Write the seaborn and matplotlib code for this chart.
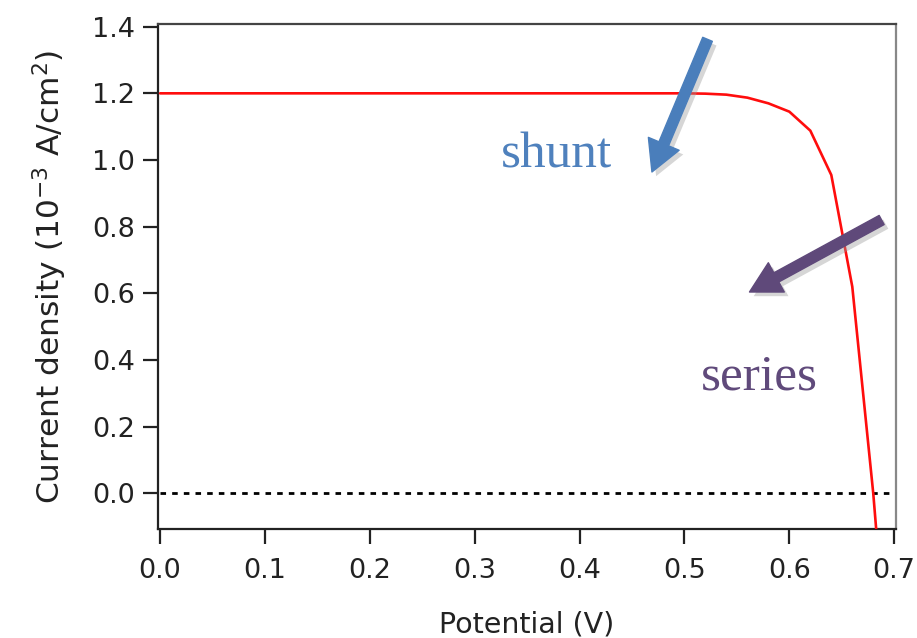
import numpy as np
import pandas as pd
import matplotlib
matplotlib.use("Agg")
import matplotlib.pyplot as plt
import matplotlib.patheffects as pe
import seaborn as sns

# ---- data ----
potential = [0.00, 0.02, 0.04, 0.06, 0.08, 0.10, 0.12, 0.14, 0.16, 0.18,
             0.20, 0.22, 0.24, 0.26, 0.28, 0.30, 0.32, 0.34, 0.36, 0.38,
             0.40, 0.42, 0.44, 0.46, 0.48, 0.50, 0.52, 0.54, 0.56, 0.58,
             0.60, 0.62, 0.64, 0.66, 0.68, 0.683]
current = [1.200, 1.200, 1.200, 1.200, 1.200, 1.200, 1.200, 1.200, 1.200, 1.200,
           1.200, 1.200, 1.200, 1.200, 1.200, 1.200, 1.200, 1.200, 1.200, 1.200,
           1.200, 1.200, 1.200, 1.200, 1.200, 1.200, 1.199, 1.196, 1.187, 1.170,
           1.145, 1.088, 0.955, 0.620, 0.000, -0.115]
zero_x = [0.0, 0.696]
zero_y = [0.0, 0.0]
xticks = [0.0, 0.1, 0.2, 0.3, 0.4, 0.5, 0.6, 0.7]
yticks = [0.0, 0.2, 0.4, 0.6, 0.8, 1.0, 1.2, 1.4]

df = pd.DataFrame({"Potential": potential, "Current": current})

sns.set_theme(style="ticks")
plt.rcParams["font.family"] = ["DejaVu Sans"]
plt.rcParams["mathtext.default"] = "regular"

fig = plt.figure(figsize=(9.17, 6.38), dpi=100)
ax = fig.add_axes([0.1718, 0.1708, 0.977 - 0.1718, 0.9624 - 0.1708])

ax.plot(zero_x, zero_y, color="black", lw=2.0, ls=(0, (2.0, 2.2)), zorder=2)
sns.lineplot(data=df, x="Potential", y="Current", sort=False, color="#ff0d0d",
             lw=1.9, ax=ax, zorder=3)

ax.set_xlim(-0.0024, 0.7016)
ax.set_ylim(-0.107, 1.408)
ax.set_xticks(xticks)
ax.set_yticks(yticks)
ax.set_xticklabels([f"{t:.1f}" for t in xticks])
ax.set_yticklabels([f"{t:.1f}" for t in yticks])
ax.tick_params(axis="both", labelsize=19.5, colors="#222222", width=1.6)
ax.tick_params(axis="x", length=11, pad=10)
ax.tick_params(axis="y", length=11, pad=5)

for side in ["left", "bottom"]:
    ax.spines[side].set_color("#222222")
    ax.spines[side].set_linewidth(1.6)
ax.spines["top"].set_color("#444444")
ax.spines["top"].set_linewidth(1.6)
ax.spines["right"].set_color("#888888")
ax.spines["right"].set_linewidth(1.6)

ax.set_xlabel("Potential (V)", fontsize=20.5, color="#222222", labelpad=19)
ax.set_ylabel("Current density (10$^{-3}$ A/cm$^{2}$)", fontsize=22.5,
              color="#222222", labelpad=17)

ax.text(0.378, 0.979, "shunt", family="Liberation Serif", fontsize=37,
        color="#4f81bd", ha="center", va="baseline")
ax.text(0.571, 0.313, "series", family="Liberation Serif", fontsize=37,
        color="#604a7b", ha="center", va="baseline")

shadow = [pe.SimplePatchShadow(offset=(3, -3), shadow_rgbFace="#999999", alpha=0.4),
          pe.Normal()]
ax.annotate("", xy=(0.469, 0.964), xytext=(0.522, 1.362),
            arrowprops=dict(width=7.5, headwidth=24, headlength=22, shrink=0,
                            color="#4a7ebb", path_effects=shadow), zorder=4)
ax.annotate("", xy=(0.562, 0.604), xytext=(0.688, 0.820),
            arrowprops=dict(width=7.5, headwidth=24, headlength=22, shrink=0,
                            color="#5f497a", path_effects=shadow), zorder=4)

fig.savefig("out.png", dpi=100)
